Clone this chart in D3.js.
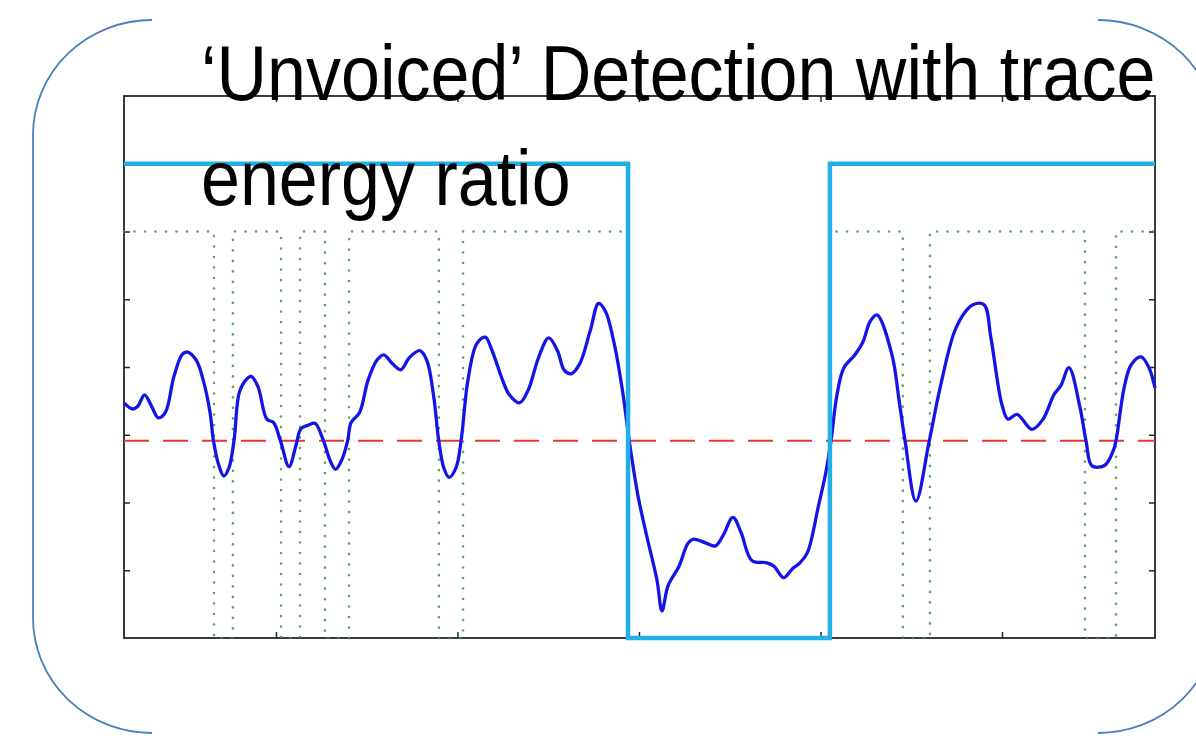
<!DOCTYPE html>
<html>
<head>
<meta charset="utf-8">
<script src="https://cdn.jsdelivr.net/npm/d3@7"></script>
<style>
  html, body { margin: 0; padding: 0; background: #ffffff; }
  svg { display: block; }
</style>
</head>
<body>
<svg id="chart" width="1196" height="739"></svg>
<script>
// ---------------- data ----------------
const titleLines = ["\u2018Unvoiced\u2019 Detection with trace", "energy ratio"];

const xDomain = [16.3, 584.3];
const yDomain = [0, 8];
const xTicks = [100, 200, 300, 400, 500];
const yTicks = [1, 2, 3, 4, 5, 6, 7];

const frames = [
  16.3, 21.0, 23.9, 27.6, 31.5, 35.2, 39.1, 43.8, 48.5, 51.4,
  56.1, 59.9, 63.7, 65.6, 68.4, 71.3, 74.1, 76.9, 79.8, 83.5,
  86.4, 90.1, 95.0, 98.7, 102.5, 107.2, 111.1, 113.8, 117.7, 121.5,
  126.2, 130.0, 132.9, 136.6, 139.5, 141.4, 146.1, 150.8, 155.6, 159.4,
  164.1, 168.8, 173.6, 179.3, 183.1, 186.9, 189.7, 192.5, 195.4, 199.2,
  202.0, 205.8, 210.6, 215.3, 219.1, 224.8, 228.6, 234.2, 239.0, 244.7,
  250.3, 255.1, 258.9, 262.7, 267.4, 273.1, 277.8, 281.6, 286.4, 291.1,
  294.0, 295.8, 299.6, 303.9, 309.9, 312.7, 316.0, 322.1, 327.0, 330.0,
  338.0, 342.2, 346.3, 351.8, 356.2, 362.3, 370.5, 374.4, 379.7, 384.8,
  388.7, 392.8, 398.9, 403.0, 405.8, 409.1, 412.9, 419.0, 423.4, 427.3,
  431.1, 439.4, 443.3, 446.6, 452.6, 459.8, 465.8, 473.8, 479.9, 484.0,
  490.1, 493.9, 500.0, 503.3, 508.3, 516.5, 522.6, 528.6, 532.5, 536.9,
  542.7, 546.3, 549.6, 556.7, 561.1, 562.8, 567.2, 571.1, 576.6, 581.0,
  584.3
];
const energyRatio = [
  3.47, 3.38, 3.42, 3.59, 3.42, 3.25, 3.33, 3.86, 4.19, 4.22,
  4.10, 3.81, 3.33, 2.91, 2.56, 2.39, 2.51, 2.91, 3.62, 3.81,
  3.86, 3.71, 3.23, 3.18, 2.91, 2.53, 2.85, 3.09, 3.14, 3.17,
  2.91, 2.61, 2.49, 2.65, 2.91, 3.18, 3.33, 3.81, 4.10, 4.18,
  4.05, 3.96, 4.14, 4.24, 4.10, 3.57, 2.91, 2.51, 2.37, 2.51,
  2.91, 3.81, 4.34, 4.44, 4.24, 3.81, 3.59, 3.47, 3.66, 4.14,
  4.43, 4.24, 3.95, 3.90, 4.05, 4.53, 4.94, 4.82, 4.34, 3.62,
  3.04, 2.70, 2.08, 1.55, 0.86, 0.40, 0.77, 1.06, 1.40, 1.46,
  1.39, 1.36, 1.51, 1.78, 1.56, 1.14, 1.11, 1.06, 0.89, 1.03,
  1.11, 1.26, 1.95, 2.45, 2.91, 3.59, 3.99, 4.18, 4.37, 4.67,
  4.77, 4.18, 3.51, 2.91, 2.02, 2.89, 3.68, 4.52, 4.82, 4.92,
  4.92, 4.43, 3.44, 3.23, 3.30, 3.08, 3.23, 3.59, 3.73, 3.99,
  3.44, 2.91, 2.54, 2.55, 2.75, 2.91, 3.68, 4.03, 4.15, 3.99,
  3.69
];

const threshold = 2.91;

// frame-level detections (green): value drops to 0 inside each interval
const detectStart = [65.9, 102.8, 127.0, 189.8, 293.5, 445.4, 545.7];
const detectEnd   = [76.3, 113.3, 140.3, 203.1, 405.2, 460.3, 562.8];
const detectHigh = 6, detectLow = 0;

// final unvoiced decision (cyan)
const decisionStart = [294.0];
const decisionEnd   = [405.2];
const decisionHigh = 7, decisionLow = 0;

// ---------------- drawing ----------------
const svg = d3.select("#chart");
const L = 124, R = 1155, T = 96, B = 638;

svg.append("rect").attr("width", 1196).attr("height", 739).attr("fill", "#ffffff");

// decorative brackets
const bracketColor = "#4a7ebf";
svg.append("path")
  .attr("d", "M152,20 A119,115 0 0 0 33,135 L33,618 A119,115 0 0 0 152,733")
  .attr("fill", "none").attr("stroke", bracketColor).attr("stroke-width", 1.8);
svg.append("path")
  .attr("d", "M1098,20 A119,115 0 0 1 1217,135 L1217,618 A119,115 0 0 1 1098,733")
  .attr("fill", "none").attr("stroke", bracketColor).attr("stroke-width", 1.8);

const x = d3.scaleLinear().domain(xDomain).range([L, R]);
const y = d3.scaleLinear().domain(yDomain).range([B, T]);

// axes box + inward ticks
const axisColor = "#262626";
function styleAxis(g) {
  g.select(".domain").remove();
  g.selectAll(".tick line").attr("stroke", axisColor).attr("stroke-width", 1.5);
  g.selectAll(".tick text").remove();
}
svg.append("g").attr("transform", `translate(0,${B})`)
  .call(d3.axisTop(x).tickValues(xTicks).tickSize(6).tickFormat("")).call(styleAxis);
svg.append("g").attr("transform", `translate(0,${T})`)
  .call(d3.axisBottom(x).tickValues(xTicks).tickSize(6).tickFormat("")).call(styleAxis);
svg.append("g").attr("transform", `translate(${L},0)`)
  .call(d3.axisRight(y).tickValues(yTicks).tickSize(6).tickFormat("")).call(styleAxis);
svg.append("g").attr("transform", `translate(${R},0)`)
  .call(d3.axisLeft(y).tickValues(yTicks).tickSize(6).tickFormat("")).call(styleAxis);
svg.append("rect")
  .attr("x", x(xDomain[0])).attr("y", y(yDomain[1]))
  .attr("width", x(xDomain[1]) - x(xDomain[0]))
  .attr("height", y(yDomain[0]) - y(yDomain[1]))
  .attr("fill", "none").attr("stroke", axisColor).attr("stroke-width", 1.8);

// step builder
function stepPoints(starts, ends, hi, lo) {
  const pts = [[xDomain[0], hi]];
  starts.forEach((s, i) => {
    pts.push([s, hi], [s, lo], [ends[i], lo], [ends[i], hi]);
  });
  pts.push([xDomain[1], hi]);
  return pts;
}
const lineRaw = d3.line().x(d => x(d[0])).y(d => y(d[1]));

// green dotted detections
svg.append("path")
  .attr("d", lineRaw(stepPoints(detectStart, detectEnd, detectHigh, detectLow)))
  .attr("fill", "none").attr("stroke", "#3a8f45").attr("stroke-width", 2.6)
  .attr("stroke-linecap", "round")
  .attr("stroke-dasharray", "0.1,10.4").attr("opacity", 0.8);

// red dashed threshold
svg.append("path")
  .attr("d", lineRaw([[xDomain[0], threshold], [xDomain[1], threshold]]))
  .attr("fill", "none").attr("stroke", "#e2392f").attr("stroke-width", 2)
  .attr("stroke-dasharray", "25,14");

// blue energy ratio trace
const energyLine = d3.line()
  .x((d, i) => x(frames[i]))
  .y(d => y(d))
  .curve(d3.curveCatmullRom.alpha(0.5));
svg.append("path")
  .attr("d", energyLine(energyRatio))
  .attr("fill", "none").attr("stroke", "#1414e6").attr("stroke-width", 3.3)
  .attr("stroke-linejoin", "round");

// cyan decision
svg.append("path")
  .attr("d", lineRaw(stepPoints(decisionStart, decisionEnd, decisionHigh, decisionLow)))
  .attr("fill", "none").attr("stroke", "#22afe6").attr("stroke-width", 4.5)
  .attr("stroke-linejoin", "miter");

// title (narrow-looking glyphs: natural width at 70px, stretched vertically)
const title = svg.append("g")
  .attr("font-family", "'Liberation Sans', Arial, sans-serif")
  .attr("font-size", 70).attr("fill", "#000000");
title.append("text")
  .attr("transform", "translate(201,100) scale(1,1.11)")
  .text(titleLines[0]);
title.append("text")
  .attr("transform", "translate(201,205) scale(1,1.11)")
  .text(titleLines[1]);
</script>
</body>
</html>
